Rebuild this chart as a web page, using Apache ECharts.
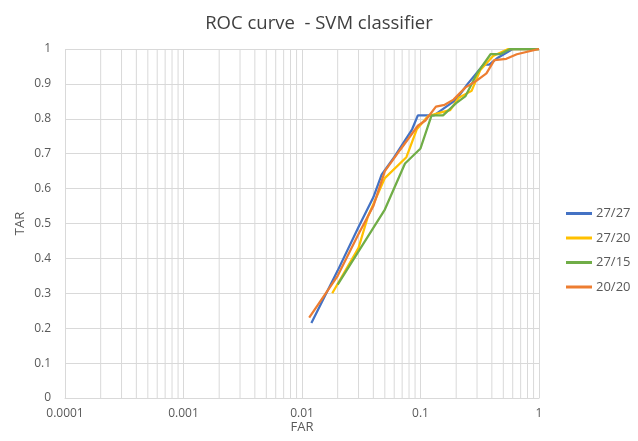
<!DOCTYPE html>
<html>
<head>
<meta charset="utf-8">
<script src="https://cdn.jsdelivr.net/npm/echarts@6/dist/echarts.min.js"></script>
<style>
  html, body { margin: 0; padding: 0; background: #fff; }
  #box { width: 638px; height: 441px; }
</style>
</head>
<body>
<div id="box"></div>
<script>
// values
const names = ["27/27", "27/20", "27/15", "20/20"];

const far2727 = [0.012, 0.02, 0.03, 0.04, 0.047, 0.06, 0.085, 0.095, 0.11, 0.13, 0.2, 0.25, 0.34, 0.38, 0.45, 0.6, 1];
const tar2727 = [0.215, 0.365, 0.49, 0.575, 0.64, 0.69, 0.77, 0.81, 0.81, 0.81, 0.855, 0.9, 0.955, 0.955, 0.975, 1.0, 1.0];

const far2720 = [0.018, 0.03, 0.036, 0.05, 0.076, 0.08, 0.093, 0.116, 0.155, 0.178, 0.21, 0.27, 0.32, 0.41, 0.55, 1];
const tar2720 = [0.30, 0.43, 0.52, 0.63, 0.69, 0.71, 0.77, 0.808, 0.82, 0.825, 0.86, 0.88, 0.94, 0.98, 1.0, 1.0];

const far2715 = [0.02, 0.03, 0.05, 0.074, 0.1, 0.124, 0.155, 0.2, 0.24, 0.3, 0.39, 0.47, 0.57, 1];
const tar2715 = [0.325, 0.42, 0.54, 0.672, 0.715, 0.81, 0.81, 0.845, 0.865, 0.93, 0.985, 0.985, 1.0, 1.0];

const far2020 = [0.0115, 0.02, 0.03, 0.04, 0.05, 0.067, 0.095, 0.11, 0.135, 0.16, 0.19, 0.24, 0.3, 0.36, 0.42, 0.53, 0.65, 1];
const tar2020 = [0.23, 0.35, 0.47, 0.55, 0.65, 0.71, 0.78, 0.795, 0.835, 0.84, 0.855, 0.89, 0.91, 0.93, 0.968, 0.972, 0.985, 1.0];

// minor vertical gridlines (2..9 of each decade)
const decades = [0.0001, 0.001, 0.01, 0.1];
const minorSteps = [2, 3, 4, 5, 6, 7, 8, 9];

const colors = ["#4472C4", "#FFC000", "#70AD47", "#ED7D31"];
const font = "Open Sans";

function pairs(xs, ys) {
  return xs.map((x, i) => [x, ys[i]]);
}

const seriesData = [
  pairs(far2727, tar2727),
  pairs(far2720, tar2720),
  pairs(far2715, tar2715),
  pairs(far2020, tar2020)
];

// gridline segments, broken by '-' so each one is separate
const gridData = [];
decades.forEach(d => {
  minorSteps.forEach(k => {
    let v = +(d * k).toPrecision(2);
    gridData.push([v, 0], [v, 1], [v, "-"]);
  });
});

let myCharts = echarts.init(document.getElementById("box"));
let series = [];
names.forEach((n, i) => {
  series.push({
    name: n,
    type: "line",
    data: seriesData[i],
    showSymbol: false,
    symbol: "none",
    itemStyle: { color: colors[i] },
    lineStyle: { width: 2.25, color: colors[i] },
    z: 3 + i
  });
});
series.push({
  name: "minor",
  type: "line",
  data: gridData,
  showSymbol: false,
  symbol: "none",
  silent: true,
  connectNulls: false,
  itemStyle: { color: "#d9d9d9" },
  lineStyle: { width: 1, color: "#d9d9d9" },
  z: 1
});

let option = {
  animation: false,
  color: colors,
  title: {
    text: "ROC curve  - SVM classifier",
    left: "center",
    top: 9,
    textStyle: { fontFamily: font, fontSize: 18.5, fontWeight: "normal", color: "#404040" }
  },
  legend: {
    orient: "vertical",
    left: 561,
    top: 202,
    itemGap: 11.5,
    itemWidth: 26,
    itemHeight: 3,
    icon: "rect",
    data: names,
    textStyle: { fontFamily: font, fontSize: 13, color: "#595959", padding: [0, 0, 0, -1] }
  },
  grid: {
    left: 65,
    right: 99,
    top: 49,
    bottom: 43,
    containLabel: false,
    outerBoundsMode: "none"
  },
  xAxis: {
    type: "log",
    logBase: 10,
    min: 0.0001,
    max: 1,
    name: "FAR",
    nameLocation: "middle",
    nameGap: 23,
    nameMoveOverlap: false,
    nameTextStyle: { fontFamily: font, fontSize: 13, color: "#595959" },
    axisLine: { show: true, lineStyle: { color: "#d9d9d9" } },
    axisTick: { show: false },
    axisLabel: {
      margin: 10,
      fontFamily: font,
      fontSize: 12,
      color: "#595959",
      formatter: v => String(+(+v).toPrecision(1))
    },
    splitLine: { show: true, lineStyle: { color: "#d9d9d9", width: 1 } }
  },
  yAxis: {
    type: "value",
    min: 0,
    max: 1,
    interval: 0.1,
    name: "TAR",
    nameLocation: "middle",
    nameGap: 38,
    nameMoveOverlap: false,
    nameTextStyle: { fontFamily: font, fontSize: 13, color: "#595959" },
    axisLine: { show: false },
    axisTick: { show: false },
    axisLabel: {
      margin: 14,
      fontFamily: font,
      fontSize: 12,
      color: "#595959",
      formatter: v => String(+v.toFixed(1))
    },
    splitLine: { show: true, lineStyle: { color: "#d9d9d9", width: 1 } }
  },
  series: series
};
myCharts.setOption(option);
</script>
</body>
</html>
